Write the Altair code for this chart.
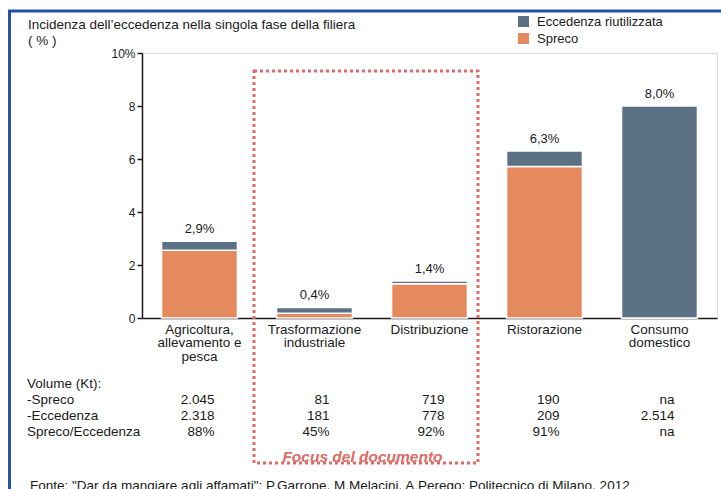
import altair as alt
import pandas as pd

# Fasi della filiera ("|" separa le righe dell'etichetta sull'asse)
fasi = [
    "Agricoltura,|allevamento e|pesca",
    "Trasformazione|industriale",
    "Distribuzione",
    "Ristorazione",
    "Consumo|domestico",
]
# Incidenza dell'eccedenza (%) e quota di spreco (%)
totale = [2.9, 0.4, 1.4, 6.3, 8.0]
spreco = [2.56, 0.18, 1.29, 5.72, 0.0]

# Tabella volumi (Kt)
spreco_kt = ["2.045", "81", "719", "190", "na"]
eccedenza_kt = ["2.318", "181", "778", "209", "2.514"]
rapporto = ["88%", "45%", "92%", "91%", "na"]

serie = ["Eccedenza riutilizzata", "Spreco"]
colori = ["#5B7185", "#E58A5F"]

FONT = "Liberation Sans"
TXT = "#1a1a1a"
ROSSO = "#DE6A65"
BLU = "#2452A4"
FS = 13.5

# Dati in formato lungo per le barre impilate
righe = []
for f, t, s in zip(fasi, totale, spreco):
    righe.append({"fase": f, "serie": "Spreco", "valore": s, "ordine": 0})
    righe.append({"fase": f, "serie": "Eccedenza riutilizzata", "valore": round(t - s, 2), "ordine": 1})
barre_df = pd.DataFrame(righe)

tot_df = pd.DataFrame({
    "fase": fasi,
    "totale": totale,
    "etichetta": [f"{v:.1f}".replace(".", ",") + "%" for v in totale],
})

tab_df = pd.DataFrame({
    "fase": fasi,
    "spreco_kt": spreco_kt,
    "eccedenza_kt": eccedenza_kt,
    "rapporto": rapporto,
})

x_enc = alt.X(
    "fase:N",
    sort=fasi,
    scale=alt.Scale(paddingInner=0.34, paddingOuter=0.17),
    axis=alt.Axis(
        title=None,
        labelAngle=0,
        labelExpr="split(datum.label, '|')",
        labelFontSize=FS,
        labelLineHeight=13.5,
        labelColor=TXT,
        labelPadding=4,
        labelBaseline="top",
        ticks=False,
        domainColor="#1a1a1a",
        domainWidth=1.5,
    ),
)

y_scale = alt.Scale(domain=[0, 10], nice=False)

barre = alt.Chart(barre_df).mark_bar(stroke="white", strokeWidth=1.5).encode(
    x=x_enc,
    y=alt.Y(
        "valore:Q",
        stack="zero",
        scale=y_scale,
        axis=alt.Axis(
            title=None,
            values=[0, 2, 4, 6, 8, 10],
            labelExpr="datum.value == 10 ? '10%' : datum.label",
            grid=False,
            labelFontSize=12,
            labelColor=TXT,
            labelPadding=2,
            tickSize=5,
            tickWidth=1.5,
            tickColor="#1a1a1a",
            domainColor="#1a1a1a",
            domainWidth=1.5,
        ),
    ),
    color=alt.Color(
        "serie:N",
        scale=alt.Scale(domain=serie, range=colori),
        legend=alt.Legend(
            title=None,
            orient="none",
            legendX=375,
            legendY=-38,
            symbolType="square",
            symbolSize=121,
            symbolStrokeWidth=0,
            labelFontSize=13,
            labelColor=TXT,
            labelOffset=7,
            rowPadding=3,
            padding=0,
        ),
    ),
    order=alt.Order("ordine:Q"),
)

etichette_tot = alt.Chart(tot_df).mark_text(
    baseline="bottom", dy=-5, fontSize=13, color=TXT, font=FONT
).encode(x=x_enc, y=alt.Y("totale:Q", scale=y_scale), text="etichetta:N")


def testo(t, x, y, **stile):
    base = dict(align="left", baseline="alphabetic", fontSize=FS, color=TXT, font=FONT)
    base.update(stile)
    return alt.Chart(pd.DataFrame({"t": [t]})).mark_text(**base).encode(
        x=alt.value(x), y=alt.value(y), text="t:N"
    )


def colonna(campo, y):
    return alt.Chart(tab_df).mark_text(
        align="right", baseline="alphabetic", dx=15, fontSize=FS, color=TXT, font=FONT
    ).encode(x=x_enc, y=alt.value(y), text=f"{campo}:N")


# Riquadro tratteggiato attorno alle fasi di interesse
riquadro = alt.Chart(pd.DataFrame({"t": [0]})).mark_rect(
    fillOpacity=0, stroke=ROSSO, strokeWidth=3, strokeDash=[3, 3]
).encode(x=alt.value(112), x2=alt.value(336), y=alt.value(18), y2=alt.value(410))

# Cornice blu
cornice_top = alt.Chart(pd.DataFrame({"t": [0]})).mark_rule(color=BLU, strokeWidth=3).encode(
    x=alt.value(-134), x2=alt.value(590), y=alt.value(-42)
)
cornice_sx = alt.Chart(pd.DataFrame({"t": [0]})).mark_rule(color=BLU, strokeWidth=3).encode(
    x=alt.value(-132.5), y=alt.value(-43), y2=alt.value(440)
)

livelli = [
    cornice_top,
    cornice_sx,
    riquadro,
    barre,
    etichette_tot,
    testo("Incidenza dell\u2019eccedenza nella singola fase della filiera", -114, -24),
    testo("( % )", -114, -8),
    testo("Volume (Kt):", -115, 335),
    testo("-Spreco", -115, 351),
    testo("-Eccedenza", -115, 367),
    testo("Spreco/Eccedenza", -115, 383),
    colonna("spreco_kt", 351),
    colonna("eccedenza_kt", 367),
    colonna("rapporto", 383),
    testo("Focus del documento", 220.5, 408.5, align="center", fontSize=15.5,
          fontWeight="bold", fontStyle="italic", color=ROSSO),
    testo("Fonte: \"Dar da mangiare agli affamati\": P.Garrone, M.Melacini, A.Perego; "
          "Politecnico di Milano, 2012", -112, 437),
]

chart = alt.layer(*livelli).properties(
    width=575,
    height=265,
    padding={"left": 142, "top": 53, "right": 4, "bottom": 171},
    autosize=alt.AutoSizeParams(type="none"),
    background="white",
).configure_view(stroke=None).configure(font=FONT)

chart.save("out.html", embed_options={"renderer": "svg", "actions": False})
